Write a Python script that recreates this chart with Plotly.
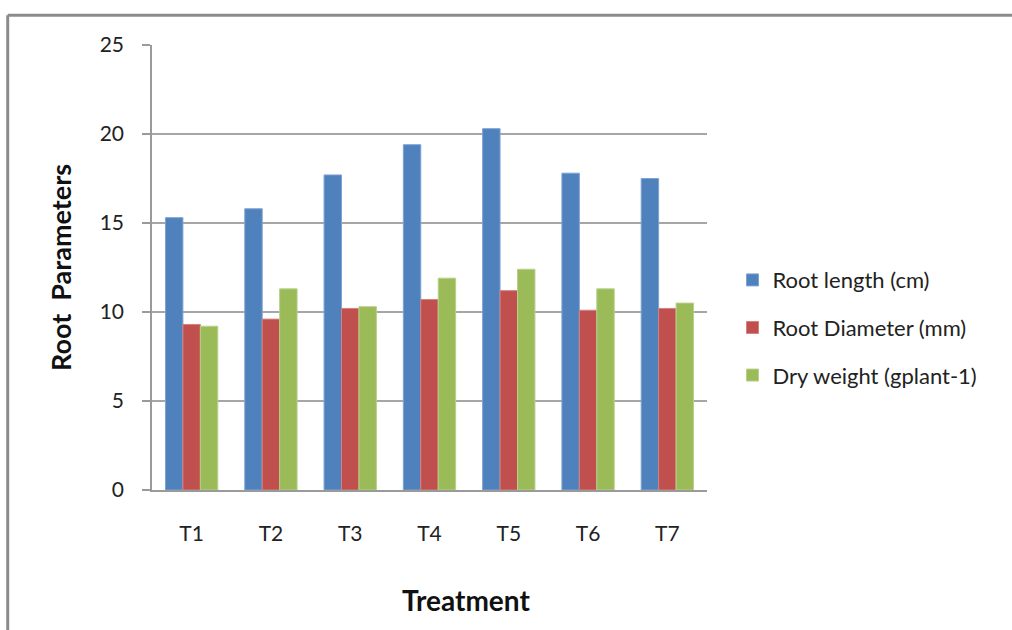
import plotly.graph_objects as go

treatments = ["T1", "T2", "T3", "T4", "T5", "T6", "T7"]
root_length = [15.3, 15.8, 17.7, 19.4, 20.3, 17.8, 17.5]
root_diameter = [9.3, 9.6, 10.2, 10.7, 11.2, 10.1, 10.2]
dry_weight = [9.2, 11.3, 10.3, 11.9, 12.4, 11.3, 10.5]

series_names = ["Root length (cm)", "Root Diameter (mm)", "Dry weight (gplant-1)"]
series_values = [root_length, root_diameter, dry_weight]
fill_colors = ["#4F81BD", "#C0504D", "#9BBB59"]
edge_colors = ["#7FA3D3", "#D48180", "#B9D08A"]

FONT = "Lato, 'Open Sans', sans-serif"

fig = go.Figure()
for name, vals, fc, ec in zip(series_names, series_values, fill_colors, edge_colors):
    fig.add_trace(go.Bar(
        x=treatments, y=vals, name=name, legendgroup=name,
        marker=dict(color=fc, line=dict(color=ec, width=1)),
    ))

fig.update_layout(
    width=1012, height=630,
    margin=dict(l=152, r=305, t=45, b=140),
    paper_bgcolor="white", plot_bgcolor="white",
    barmode="group", bargap=0.34, bargroupgap=0,
    font=dict(family=FONT, color="#222222", size=21),
    showlegend=True,
    legend=dict(
        x=1.046, y=0.365, xanchor="left", yanchor="middle",
        font=dict(size=22, color="#222222"),
        traceorder="grouped", tracegroupgap=16,
        itemwidth=30, bgcolor="rgba(0,0,0,0)",
    ),
    xaxis=dict(
        showgrid=False, showline=True, linecolor="#9a9a9a", linewidth=1.5,
        ticks="", ticklabelstandoff=24,
        tickfont=dict(size=21),
    ),
    yaxis=dict(
        range=[0, 25], dtick=5, tick0=0,
        showgrid=True, gridcolor="#a6a6a6", gridwidth=1.5,
        showline=True, linecolor="#9a9a9a", linewidth=1.5,
        ticks="outside", ticklen=8, tickcolor="#9a9a9a", tickwidth=1.5,
        ticklabelstandoff=14, tickfont=dict(size=21),
        zeroline=False,
        title=dict(text="<b>Root  Parameters</b>", font=dict(size=27, color="#111111"), standoff=20),
    ),
    annotations=[
        dict(text="<b>Treatment</b>", xref="paper", yref="paper",
             x=0.566, y=-0.247, xanchor="center", yanchor="middle",
             showarrow=False, font=dict(size=28, color="#111111")),
    ],
    shapes=[
        dict(type="line", xref="paper", yref="paper",
             x0=-0.26, x1=1.6, y0=1.067, y1=1.067,
             line=dict(color="#8c8c8c", width=3)),
        dict(type="line", xref="paper", yref="paper",
             x0=-0.26, x1=-0.26, y0=1.067, y1=-0.32,
             line=dict(color="#8c8c8c", width=3)),
    ],
)

fig.write_html("out.html")
